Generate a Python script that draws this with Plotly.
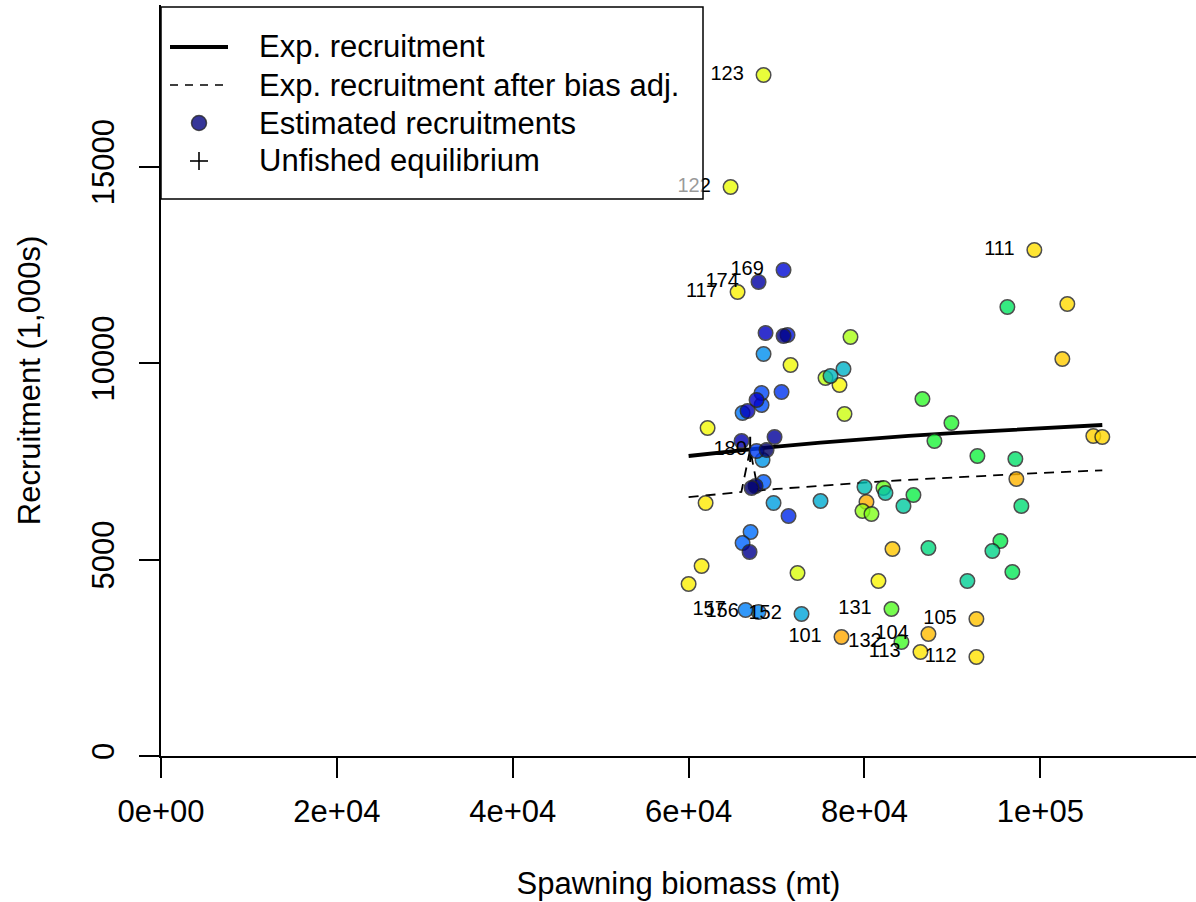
import numpy as np
import plotly.graph_objects as go

# ---------------- data ----------------
years = [101, 102, 103, 104, 105, 106, 107, 108, 109, 110,
         111, 112, 113, 114, 115, 116, 117, 118, 119, 120,
         121, 122, 123, 124, 125, 126, 127, 128, 129, 130,
         131, 132, 133, 134, 135, 136, 137, 138, 139, 140,
         141, 142, 143, 144, 145, 146, 147, 148, 149, 150,
         151, 152, 153, 154, 155, 156, 157, 158, 159, 160,
         161, 162, 163, 164, 165, 166, 168, 169, 170, 171,
         172, 173, 174, 175, 176, 177, 178, 179, 180]
spawn_bio = [77386, 80227, 97273, 87273, 92727, 83182, 102500, 106023, 107045, 103068,
             99318, 92727, 86364, 61932, 61477, 60000, 65568, 81591, 77159, 62159,
             71591, 64773, 68523, 72386, 77727, 75568, 78409, 79773, 80795, 82159,
             83068, 84205, 86591, 89886, 87955, 92841, 85568, 95455, 96818, 96250,
             97159, 97841, 87273, 94545, 91705, 84432, 82386, 80000, 76136, 77614,
             75000, 72841, 69659, 68409, 68523, 67955, 66477, 66136, 67045, 66136,
             68523, 68295, 68295, 67727, 70568, 71364, 71250, 70795, 67727, 68750,
             66705, 66023, 67955, 69773, 66932, 70795, 67614, 67159, 68864]
recruits = [3029, 6465, 7051, 3105, 3487, 5269, 10105, 8145, 8120, 11505,
            12880, 2520, 2647, 6440, 4836, 4378, 11811, 4454, 9443, 8349,
            9952, 14483, 17334, 4658, 8705, 9622, 10665, 6236, 6160, 6822,
            3742, 2902, 9087, 8476, 8018, 7636, 6643, 5473, 4684, 11429,
            7560, 6363, 5294, 5218, 4454, 6363, 6694, 6847, 9672, 9851,
            6491, 3614, 6440, 7534, 10232, 3665, 3716, 8731, 5702, 5422,
            6974, 8934, 9240, 7763, 9265, 6109, 10716, 12371, 9062, 10767,
            8782, 8018, 12065, 8120, 5193, 10691, 6873, 6822, 7789]
labelled_years = [101, 104, 105, 111, 112, 113, 117, 122, 123, 131, 132,
                  152, 156, 157, 169, 174, 180]

# expected recruitment curve
curve_sb = [60000, 65000, 70000, 75000, 80000, 85000, 90000, 95000, 100000, 107045]
curve_exp = [7636, 7763, 7876, 7976, 8066, 8147, 8220, 8287, 8348, 8425]
# expected recruitment after bias adjustment
bias_sb = [60000, 65000, 66000, 67000, 67900, 70000, 75000, 80000, 85000,
           90000, 95000, 100000, 107045]
bias_exp = [6590, 6700, 6720, 7805, 6757, 6797, 6883, 6961, 7031,
            7094, 7152, 7204, 7271]
# unfished equilibrium
virgin_sb = [67000]
virgin_recr = [7805]

x_ticks = [0, 20000, 40000, 60000, 80000, 100000]
x_ticklabels = ["0e+00", "2e+04", "4e+04", "6e+04", "8e+04", "1e+05"]
y_ticks = [0, 5000, 10000, 15000]
y_ticklabels = ["0", "5000", "10000", "15000"]

legend_labels = ["Exp. recruitment", "Exp. recruitment after bias adj.",
                 "Estimated recruitments", "Unfished equilibrium"]


# ---------------- style ----------------
def rich_short(t):
    r = 1.0 / (1.0 + np.exp(20 - 35 * t))
    g = min(max(0.0, -0.8 + 6 * t - 5 * t * t), 1.0)
    b = np.exp(-0.5 * ((t - 0.25) / 0.15) ** 2)
    return "rgb(%d,%d,%d)" % (round(r * 255), round(g * 255), round(b * 255))


stops = np.linspace(0, 1, 41)
colorscale = [[float(s), rich_short(1 - s)] for s in stops]

FONT = "Liberation Sans, Arial, sans-serif"
W, H = 1196, 902
L, R, T, B = 161, 0, 5, 146
PW, PH = W - L - R, H - T - B


def px(xs):
    return (xs - L) / PW


def py(ys):
    return (H - B - ys) / PH


fig = go.Figure()

# curves (under the points)
fig.add_trace(go.Scatter(
    x=curve_sb, y=curve_exp, mode="lines",
    line=dict(color="black", width=3.8), showlegend=False, hoverinfo="skip"))
fig.add_trace(go.Scatter(
    x=bias_sb, y=bias_exp, mode="lines",
    line=dict(color="black", width=1.8, dash="10px,7px"),
    showlegend=False, hoverinfo="skip"))

# unfished equilibrium
fig.add_trace(go.Scatter(
    x=virgin_sb, y=virgin_recr, mode="markers",
    marker=dict(symbol="cross-thin", size=18, line=dict(width=2, color="black")),
    showlegend=False, hoverinfo="skip"))

# estimated recruitments
fig.add_trace(go.Scatter(
    x=spawn_bio, y=recruits, mode="markers",
    marker=dict(size=14.5, color=years, colorscale=colorscale,
                cmin=87.4, cmax=184.5, opacity=0.8,
                line=dict(width=1.5, color="#222222")),
    text=[str(y) for y in years], hoverinfo="text",
    showlegend=False))

# labels of selected years
lab_x = [spawn_bio[years.index(y)] for y in labelled_years]
lab_y = [recruits[years.index(y)] for y in labelled_years]
fig.add_trace(go.Scatter(
    x=lab_x, y=lab_y, mode="markers+text",
    text=[str(y) for y in labelled_years], textposition="middle left",
    textfont=dict(family=FONT, size=20, color="black"),
    marker=dict(size=30, color="rgba(0,0,0,0)"),
    showlegend=False, hoverinfo="skip"))

# ---------------- manual legend ----------------
shapes = []
annotations = []
box_l, box_t, box_r, box_b = 161, 7, 703, 199
shapes.append(dict(type="rect", xref="paper", yref="paper",
                   x0=px(box_l), x1=px(box_r), y0=py(box_b), y1=py(box_t),
                   line=dict(color="black", width=1.5),
                   fillcolor="rgba(255,255,255,0.6)", layer="above"))
rows = [47, 85, 123, 161]
shapes.append(dict(type="line", xref="paper", yref="paper",
                   x0=px(170), x1=px(228), y0=py(rows[0]), y1=py(rows[0]),
                   line=dict(color="black", width=3.8), layer="above"))
shapes.append(dict(type="line", xref="paper", yref="paper",
                   x0=px(170), x1=px(228), y0=py(rows[1]), y1=py(rows[1]),
                   line=dict(color="black", width=1.6, dash="8px,7px"), layer="above"))
shapes.append(dict(type="circle", xref="paper", yref="paper",
                   x0=px(199 - 7.5), x1=px(199 + 7.5), y0=py(rows[2] + 7.5), y1=py(rows[2] - 7.5),
                   line=dict(color="rgba(40,40,40,0.8)", width=1.5),
                   fillcolor="rgba(10,10,130,0.82)", layer="above"))
shapes.append(dict(type="line", xref="paper", yref="paper",
                   x0=px(190), x1=px(208), y0=py(rows[3]), y1=py(rows[3]),
                   line=dict(color="black", width=1.6), layer="above"))
shapes.append(dict(type="line", xref="paper", yref="paper",
                   x0=px(199), x1=px(199), y0=py(rows[3] - 9), y1=py(rows[3] + 9),
                   line=dict(color="black", width=1.6), layer="above"))
for lbl, ry in zip(legend_labels, rows):
    annotations.append(dict(text=lbl, xref="paper", yref="paper",
                            x=px(257), y=py(ry), xanchor="left", yanchor="middle",
                            showarrow=False, font=dict(family=FONT, size=31, color="black")))

y_top = 19116
fig.update_layout(
    width=W, height=H,
    margin=dict(l=L, r=R, t=T, b=B, pad=0),
    paper_bgcolor="white", plot_bgcolor="white",
    font=dict(family=FONT, size=31, color="black"),
    shapes=shapes, annotations=annotations,
    showlegend=False,
    xaxis=dict(range=[0, 117700], tickvals=x_ticks, ticktext=x_ticklabels,
               showgrid=False, zeroline=False, showline=True, linecolor="black",
               linewidth=2, ticks="outside", ticklen=20, tickwidth=1.6,
               tickcolor="black", ticklabelstandoff=7,
               tickfont=dict(family=FONT, size=31),
               title=dict(text="Spawning biomass (mt)", standoff=44,
                          font=dict(family=FONT, size=31)),
               automargin=False),
    yaxis=dict(range=[0, y_top], tickvals=y_ticks, ticktext=y_ticklabels,
               showgrid=False, zeroline=False, showline=True, linecolor="black",
               linewidth=2, ticks="outside", ticklen=20, tickwidth=1.6,
               tickcolor="black", tickangle=-90, ticklabelstandoff=13,
               tickfont=dict(family=FONT, size=31),
               title=dict(text="Recruitment (1,000s)", standoff=36,
                          font=dict(family=FONT, size=31)),
               automargin=False),
)

fig.write_html("out.html",
               config={"displayModeBar": False},
               post_script="document.body.style.margin='0';"
                           "document.body.style.overflow='hidden';")
